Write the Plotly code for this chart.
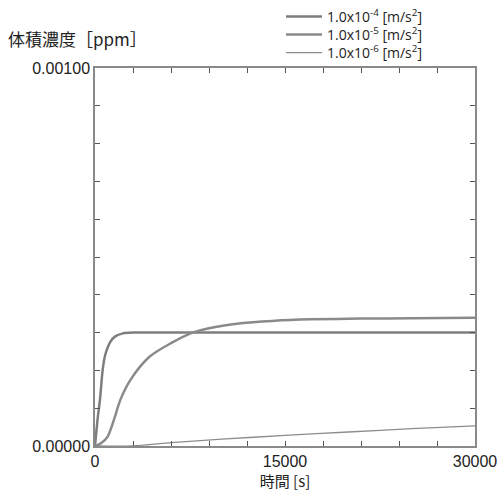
import plotly.graph_objects as go

# time [s]
t_fast = [0, 200, 400, 600, 800, 1200, 1600, 2200, 3000, 6000, 15000, 30000]
v_fast = [0, 0.00007, 0.000125, 0.0002, 0.00024, 0.000275, 0.00029, 0.000298, 0.0003, 0.0003, 0.0003, 0.0003]

t_mid = [0, 500, 1000, 1500, 2000, 2800, 4300, 6000, 7700, 9500, 11500, 14000, 17000, 21000, 25000, 30000]
v_mid = [0, 0.000008, 0.000025, 0.00007, 0.000122, 0.000175, 0.000236, 0.000272, 0.0003, 0.000315,
         0.000325, 0.000331, 0.000335, 0.000337, 0.000338, 0.000339]

t_slow = [0, 3000, 6000, 10000, 15000, 20000, 25000, 30000]
v_slow = [0, 0.0000005, 0.000009, 0.000018, 0.000028, 0.000037, 0.000046, 0.000053]

names = ["1.0x10<sup>-4</sup> [m/s<sup>2</sup>]",
         "1.0x10<sup>-5</sup> [m/s<sup>2</sup>]",
         "1.0x10<sup>-6</sup> [m/s<sup>2</sup>]"]

x_labels = ["0", "15000", "30000"]
x_major = [0, 15000, 30000]
y_labels = ["0.00000", "0.00100"]
y_major = [0, 0.001]

W, H = 502, 500

fig = go.Figure()
fig.add_trace(go.Scatter(x=t_fast, y=v_fast, mode="lines", name=names[0], legend="legend",
                         line=dict(color="#7e7e7e", width=2.5, shape="spline", smoothing=0.6)))
fig.add_trace(go.Scatter(x=t_mid, y=v_mid, mode="lines", name=names[1], legend="legend2",
                         line=dict(color="#8a8a8a", width=2.5, shape="spline", smoothing=0.8)))
fig.add_trace(go.Scatter(x=t_slow, y=v_slow, mode="lines", name=names[2], legend="legend3",
                         line=dict(color="#8c8c8c", width=1.3, shape="spline", smoothing=0.6)))

axis_common = dict(showgrid=False, zeroline=False, showline=True, linecolor="#8a8a8a", linewidth=1.5,
                   mirror="ticks", ticks="inside", ticklen=5, tickcolor="#555555", tickwidth=1,
                   tickfont=dict(family="Liberation Sans, Arial, sans-serif", size=16, color="#222222"))

fig.update_xaxes(range=[0, 30000], tickmode="array", tickvals=x_major, ticktext=x_labels,
                 minor=dict(dtick=3000, ticks="inside", ticklen=5, tickcolor="#555555", tickwidth=1,
                            showgrid=False),
                 title=dict(text="時間 [s]", font=dict(family="Noto Sans CJK JP", size=15, color="#222222"),
                            standoff=6),
                 **axis_common)
fig.update_yaxes(range=[0, 0.001], tickmode="array", tickvals=y_major, ticktext=y_labels,
                 minor=dict(dtick=0.0001, ticks="inside", ticklen=5, tickcolor="#555555", tickwidth=1,
                            showgrid=False),
                 **axis_common)


def legend_at(ypx):
    return dict(x=281 / W, xref="container", xanchor="left", y=1 - ypx / H, yref="container",
                yanchor="middle", bgcolor="rgba(0,0,0,0)",
                font=dict(family="Open Sans, sans-serif", size=14, color="#222222"),
                itemwidth=36)


fig.update_layout(
    width=W, height=H,
    margin=dict(l=95, r=27, t=68, b=54, autoexpand=False),
    plot_bgcolor="white", paper_bgcolor="white",
    title=dict(text="体積濃度［ppm］", x=8 / W, xref="container", xanchor="left",
               y=1 - 40 / H, yref="container", yanchor="middle",
               font=dict(family="Noto Sans CJK JP", size=17, color="#222222")),
    legend=legend_at(17),
    legend2=legend_at(35),
    legend3=legend_at(53),
    showlegend=True,
)

fig.write_html("out.html", config={"displayModeBar": False},
               post_script="document.body.style.margin='0';document.body.style.overflow='hidden';")
